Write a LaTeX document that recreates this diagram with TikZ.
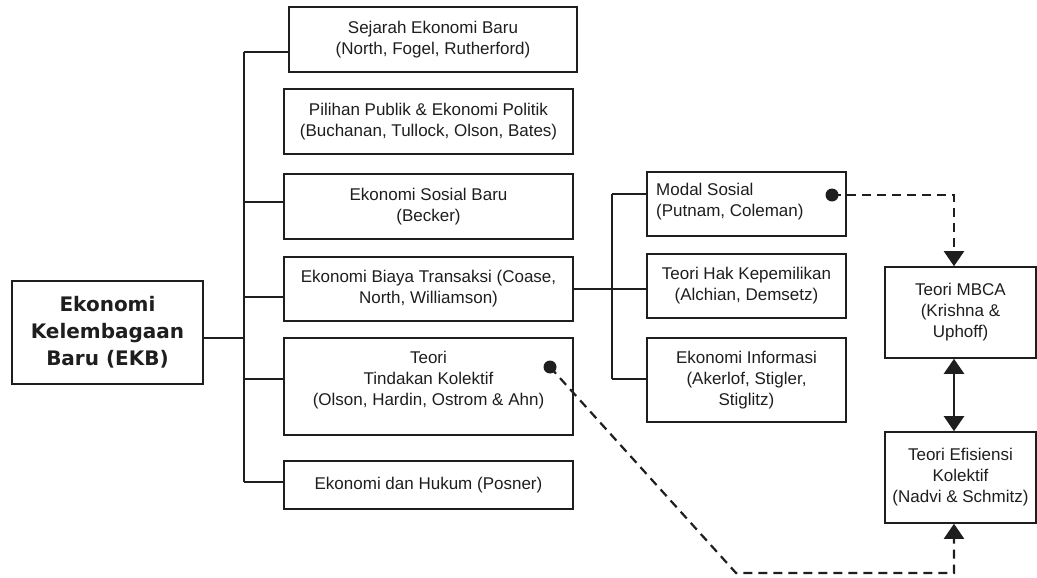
\documentclass[tikz,border=0pt]{standalone}
\usepackage{fontspec}
\setmainfont{Liberation Sans}
\newfontfamily\titlefont{DejaVu Sans}
\usetikzlibrary{arrows.meta}
\definecolor{ink}{HTML}{1E1E1E}
\begin{document}
\begin{tikzpicture}[x=1pt,y=-1pt,
  every node/.style={text=ink},
  box/.style={draw=ink, line width=1.6pt, inner sep=0pt, align=center,
              font=\fontsize{17}{21}\selectfont},
  txt/.style={inner sep=0pt, font=\fontsize{17}{21}\selectfont},
  link/.style={draw=ink, line width=1.4pt},
  dlink/.style={draw=ink, line width=2.2pt, dash pattern=on 9pt off 6pt},
  tip/.style={-{Triangle[width=20pt,length=15pt]}},
  dot/.style={circle, fill=ink, inner sep=0pt, minimum size=13pt}]
\useasboundingbox (0,0) rectangle (1037,578);

% root
\node[box, minimum width=191pt, minimum height=103pt,
      font=\titlefont\bfseries\fontsize{20}{27}\selectfont] (ekb) at (107.5,332.5)
  {Ekonomi\\Kelembagaan\\Baru (EKB)};

% first level
\node[box, minimum width=288pt, minimum height=65pt] (b1) at (433,39.5)
  {Sejarah Ekonomi Baru\\(North, Fogel, Rutherford)};
\node[box, minimum width=289pt, minimum height=65pt] (b2) at (428.5,121.5)
  {Pilihan Publik \& Ekonomi Politik\\(Buchanan, Tullock, Olson, Bates)};
\node[box, minimum width=289pt, minimum height=65pt] (b3) at (428.5,206.5)
  {Ekonomi Sosial Baru\\(Becker)};
\node[box, minimum width=289pt, minimum height=64pt] (b4) at (428.5,289)
  {Ekonomi Biaya Transaksi (Coase,\\North, Williamson)};
\node[box, minimum width=289pt, minimum height=97pt] (b5) at (428.5,386.5) {};
\node[txt, align=center] (b5t) at (428.5,380)
  {Teori\\Tindakan Kolektif\\(Olson, Hardin, Ostrom \& Ahn)};
\node[box, minimum width=289pt, minimum height=48pt] (b6) at (428.5,485)
  {Ekonomi dan Hukum (Posner)};

% second level
\node[box, minimum width=199pt, minimum height=64pt] (m1) at (746.5,204) {};
\node[txt, anchor=west, align=left] (m1t) at (656,202)
  {Modal Sosial\\(Putnam, Coleman)};
\node[box, minimum width=199pt, minimum height=64pt] (m2) at (746.5,286)
  {Teori Hak Kepemilikan\\(Alchian, Demsetz)};
\node[box, minimum width=199pt, minimum height=84pt] (m3) at (746.5,380)
  {Ekonomi Informasi\\(Akerlof, Stigler,\\Stiglitz)};

% theories on the right
\node[box, minimum width=151pt, minimum height=91pt] (r1) at (960.5,312.5)
  {Teori MBCA\\(Krishna \&\\Uphoff)};
\node[box, minimum width=151pt, minimum height=91pt] (r2) at (960.5,477.5)
  {Teori Efisiensi\\Kolektif\\(Nadvi \& Schmitz)};

% tree from the root
\coordinate (t0) at (244,338);
\coordinate (t1) at (244,52);
\coordinate (t3) at (244,202);
\coordinate (t4) at (244,297);
\coordinate (t5) at (244,379);
\coordinate (t6) at (244,482);
\draw[link] (t1) -- (t6);
\draw[link] (ekb.east |- t0) -- (t0);
\draw[link] (t1) -- (t1 -| b1.west);
\draw[link] (t3) -- (t3 -| b3.west);
\draw[link] (t4) -- (t4 -| b4.west);
\draw[link] (t5) -- (t5 -| b5.west);
\draw[link] (t6) -- (t6 -| b6.west);

% tree from transaction cost economics
\coordinate (s1) at (612,194);
\coordinate (s3) at (612,379);
\draw[link] (s1) -- (s3);
\draw[link] (b4.east) -- (b4.east -| m2.west);
\draw[link] (s1) -- (s1 -| m1.west);
\draw[link] (s3) -- (s3 -| m3.west);

% dashed influences
\node[dot] (d1) at (832,195) {};
\node[dot] (d2) at (550,367) {};
\coordinate (c1) at (954,195);
\coordinate (c2) at (736,573);
\coordinate (c3) at (954,573);
\draw[dlink, tip] (d1.center) -- (c1) -- (c1 |- r1.north);
\draw[dlink, tip] (d2.center) -- (c2) -- (c3) -- (c3 |- r2.south);

% mutual link between the two theories
\draw[draw=ink, line width=2.4pt,
      {Triangle[width=20pt,length=15pt]}-{Triangle[width=20pt,length=15pt]}]
  (c1 |- r1.south) -- (c1 |- r2.north);
\end{tikzpicture}
\end{document}
